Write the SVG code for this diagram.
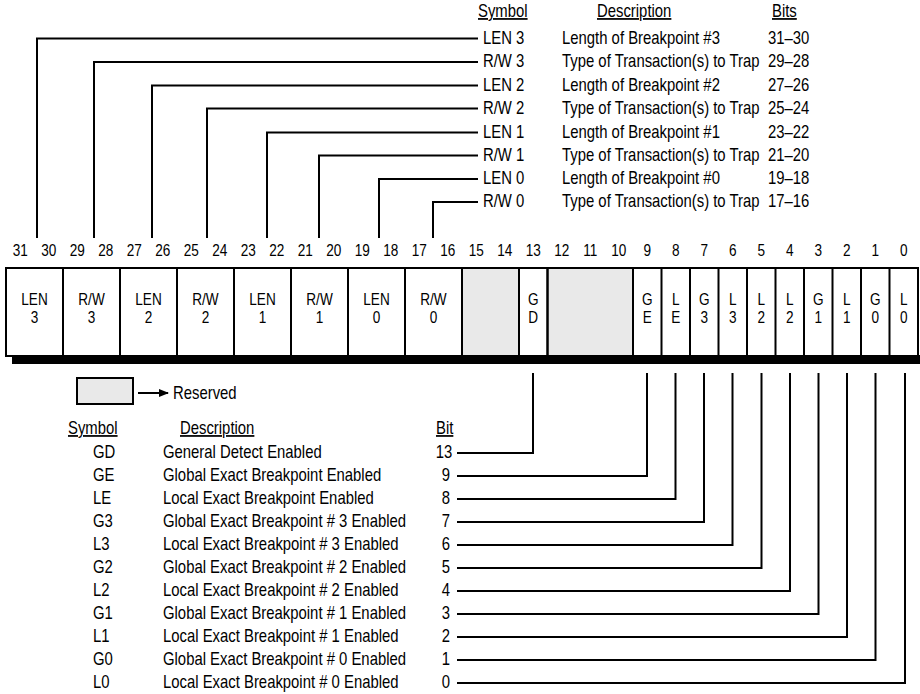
<svg xmlns="http://www.w3.org/2000/svg" width="920" height="694" viewBox="0 0 920 694">
<style>
.t{font-family:"Liberation Sans",Arial,sans-serif;font-size:17.5px;fill:#000}
.n{font-family:"Liberation Sans",Arial,sans-serif;font-size:17px;fill:#000;text-anchor:middle}
.c{text-anchor:middle}
.u{text-decoration:underline}
.w{fill:none;stroke:#000;stroke-width:2}
.cell{fill:#fff;stroke:#000;stroke-width:2}
.res{fill:#e9e9e9;stroke:#000;stroke-width:2}
</style>
<defs>
<marker id="ah" markerWidth="10" markerHeight="8" refX="9" refY="4" orient="auto" markerUnits="userSpaceOnUse">
<path d="M0,0 L10,4 L0,8 Z" fill="#000"/>
</marker>
</defs>
<rect width="920" height="694" fill="#fff"/>

<g id="top-legend" class="t" transform="scale(0.85,1)">
<text x="562.35" y="17" class="t u">Symbol</text>
<text x="702.35" y="17" class="t u">Description</text>
<text x="908.24" y="17" class="t u">Bits</text>
<g id="row-len3"><text x="568.24" y="44">LEN 3</text><text x="661.18" y="44">Length of Breakpoint #3</text><text x="903.53" y="44">31–30</text></g>
<g id="row-rw3"><text x="568.24" y="67">R/W 3</text><text x="661.18" y="67">Type of Transaction(s) to Trap</text><text x="903.53" y="67">29–28</text></g>
<g id="row-len2"><text x="568.24" y="91">LEN 2</text><text x="661.18" y="91">Length of Breakpoint #2</text><text x="903.53" y="91">27–26</text></g>
<g id="row-rw2"><text x="568.24" y="114">R/W 2</text><text x="661.18" y="114">Type of Transaction(s) to Trap</text><text x="903.53" y="114">25–24</text></g>
<g id="row-len1"><text x="568.24" y="138">LEN 1</text><text x="661.18" y="138">Length of Breakpoint #1</text><text x="903.53" y="138">23–22</text></g>
<g id="row-rw1"><text x="568.24" y="161">R/W 1</text><text x="661.18" y="161">Type of Transaction(s) to Trap</text><text x="903.53" y="161">21–20</text></g>
<g id="row-len0"><text x="568.24" y="184">LEN 0</text><text x="661.18" y="184">Length of Breakpoint #0</text><text x="903.53" y="184">19–18</text></g>
<g id="row-rw0"><text x="568.24" y="207">R/W 0</text><text x="661.18" y="207">Type of Transaction(s) to Trap</text><text x="903.53" y="207">17–16</text></g>
</g>

<g id="bit-numbers" transform="scale(0.8,1)">
<text class="n" x="25.31" y="256">31</text><text class="n" x="60.94" y="256">30</text><text class="n" x="96.56" y="256">29</text><text class="n" x="132.19" y="256">28</text>
<text class="n" x="167.81" y="256">27</text><text class="n" x="203.44" y="256">26</text><text class="n" x="239.06" y="256">25</text><text class="n" x="274.69" y="256">24</text>
<text class="n" x="310.31" y="256">23</text><text class="n" x="345.94" y="256">22</text><text class="n" x="381.56" y="256">21</text><text class="n" x="417.19" y="256">20</text>
<text class="n" x="452.81" y="256">19</text><text class="n" x="488.44" y="256">18</text><text class="n" x="524.06" y="256">17</text><text class="n" x="559.69" y="256">16</text>
<text class="n" x="595.31" y="256">15</text><text class="n" x="630.94" y="256">14</text><text class="n" x="666.56" y="256">13</text><text class="n" x="702.19" y="256">12</text>
<text class="n" x="737.81" y="256">11</text><text class="n" x="773.44" y="256">10</text><text class="n" x="809.06" y="256">9</text><text class="n" x="844.69" y="256">8</text>
<text class="n" x="880.31" y="256">7</text><text class="n" x="915.94" y="256">6</text><text class="n" x="951.56" y="256">5</text><text class="n" x="987.19" y="256">4</text>
<text class="n" x="1022.81" y="256">3</text><text class="n" x="1058.44" y="256">2</text><text class="n" x="1094.06" y="256">1</text><text class="n" x="1129.69" y="256">0</text>
</g>

<g id="register">
<rect x="12" y="355" width="908" height="9" fill="#000"/>
<rect x="6" y="268" width="912" height="88" class="cell"/>
<rect x="462" y="268" width="57" height="88" class="res"/>
<rect x="547.5" y="268" width="85.5" height="88" class="res"/>
<path class="w" d="M63,268V356M120,268V356M177,268V356M234,268V356M291,268V356M348,268V356M405,268V356M462,268V356M519,268V356M547.5,268V356M633,268V356M661.5,268V356M690,268V356M718.5,268V356M747,268V356M775.5,268V356M804,268V356M832.5,268V356M861,268V356M889.5,268V356"/>
</g>

<g id="fields" transform="scale(0.8,1)">
<g id="f-len3"><text class="n" x="43.13" y="305">LEN</text><text class="n" x="43.13" y="323">3</text></g>
<g id="f-rw3"><text class="n" x="114.38" y="305">R/W</text><text class="n" x="114.38" y="323">3</text></g>
<g id="f-len2"><text class="n" x="185.63" y="305">LEN</text><text class="n" x="185.63" y="323">2</text></g>
<g id="f-rw2"><text class="n" x="256.88" y="305">R/W</text><text class="n" x="256.88" y="323">2</text></g>
<g id="f-len1"><text class="n" x="328.13" y="305">LEN</text><text class="n" x="328.13" y="323">1</text></g>
<g id="f-rw1"><text class="n" x="399.38" y="305">R/W</text><text class="n" x="399.38" y="323">1</text></g>
<g id="f-len0"><text class="n" x="470.63" y="305">LEN</text><text class="n" x="470.63" y="323">0</text></g>
<g id="f-rw0"><text class="n" x="541.88" y="305">R/W</text><text class="n" x="541.88" y="323">0</text></g>
<g id="f-gd"><text class="n" x="666.56" y="305">G</text><text class="n" x="666.56" y="323">D</text></g>
<g id="f-ge"><text class="n" x="809.06" y="305">G</text><text class="n" x="809.06" y="323">E</text></g>
<g id="f-le"><text class="n" x="844.69" y="305">L</text><text class="n" x="844.69" y="323">E</text></g>
<g id="f-g3"><text class="n" x="880.31" y="305">G</text><text class="n" x="880.31" y="323">3</text></g>
<g id="f-l3"><text class="n" x="915.94" y="305">L</text><text class="n" x="915.94" y="323">3</text></g>
<g id="f-g2"><text class="n" x="951.56" y="305">L</text><text class="n" x="951.56" y="323">2</text></g>
<g id="f-l2"><text class="n" x="987.19" y="305">L</text><text class="n" x="987.19" y="323">2</text></g>
<g id="f-g1"><text class="n" x="1022.81" y="305">G</text><text class="n" x="1022.81" y="323">1</text></g>
<g id="f-l1"><text class="n" x="1058.44" y="305">L</text><text class="n" x="1058.44" y="323">1</text></g>
<g id="f-g0"><text class="n" x="1094.06" y="305">G</text><text class="n" x="1094.06" y="323">0</text></g>
<g id="f-l0"><text class="n" x="1129.69" y="305">L</text><text class="n" x="1129.69" y="323">0</text></g>
</g>

<g id="reserved-legend">
<rect x="77" y="378" width="56" height="26" class="res"/>
<line x1="138" y1="393" x2="168" y2="393" stroke="#000" stroke-width="2" marker-end="url(#ah)"/>
<text x="203.53" y="399" class="t" transform="scale(0.85,1)">Reserved</text>
</g>

<g id="bottom-legend" class="t" transform="scale(0.85,1)">
<text x="80" y="434" class="t u">Symbol</text>
<text x="211.76" y="434" class="t u">Description</text>
<text x="512.94" y="434" class="t u">Bit</text>
<g id="row-gd"><text x="109.41" y="458">GD</text><text x="191.76" y="458">General Detect Enabled</text><text x="522.35" y="458" class="c">13</text></g>
<g id="row-ge"><text x="109.41" y="481">GE</text><text x="191.76" y="481">Global Exact Breakpoint Enabled</text><text x="524.71" y="481" class="c">9</text></g>
<g id="row-le"><text x="109.41" y="504">LE</text><text x="191.76" y="504">Local Exact Breakpoint Enabled</text><text x="524.71" y="504" class="c">8</text></g>
<g id="row-g3"><text x="109.41" y="527">G3</text><text x="191.76" y="527">Global Exact Breakpoint # 3 Enabled</text><text x="524.71" y="527" class="c">7</text></g>
<g id="row-l3"><text x="109.41" y="550">L3</text><text x="191.76" y="550">Local Exact Breakpoint # 3 Enabled</text><text x="524.71" y="550" class="c">6</text></g>
<g id="row-g2"><text x="109.41" y="573">G2</text><text x="191.76" y="573">Global Exact Breakpoint # 2 Enabled</text><text x="524.71" y="573" class="c">5</text></g>
<g id="row-l2"><text x="109.41" y="596">L2</text><text x="191.76" y="596">Local Exact Breakpoint # 2 Enabled</text><text x="524.71" y="596" class="c">4</text></g>
<g id="row-g1"><text x="109.41" y="619">G1</text><text x="191.76" y="619">Global Exact Breakpoint # 1 Enabled</text><text x="524.71" y="619" class="c">3</text></g>
<g id="row-l1"><text x="109.41" y="642">L1</text><text x="191.76" y="642">Local Exact Breakpoint # 1 Enabled</text><text x="524.71" y="642" class="c">2</text></g>
<g id="row-g0"><text x="109.41" y="665">G0</text><text x="191.76" y="665">Global Exact Breakpoint # 0 Enabled</text><text x="524.71" y="665" class="c">1</text></g>
<g id="row-l0"><text x="109.41" y="688">L0</text><text x="191.76" y="688">Local Exact Breakpoint # 0 Enabled</text><text x="524.71" y="688" class="c">0</text></g>
</g>

<g id="connectors" class="w">
<path d="M478,38.5H37V238"/>
<path d="M478,62H94V238"/>
<path d="M478,85.5H152V238"/>
<path d="M478,108.5H207V238"/>
<path d="M478,132.5H267V238"/>
<path d="M478,155.5H319V238"/>
<path d="M478,179H379V238"/>
<path d="M478,202H433V238"/>
<path d="M457,453H533V373"/>
<path d="M457,476H647V373"/>
<path d="M457,499H675.5V373"/>
<path d="M457,522H704V373"/>
<path d="M457,545H732.5V373"/>
<path d="M457,568H761.5V373"/>
<path d="M457,591H790V373"/>
<path d="M457,614H818.5V373"/>
<path d="M457,637H847V373"/>
<path d="M457,660H875.5V373"/>
<path d="M457,683H905V373"/>
</g>
</svg>
